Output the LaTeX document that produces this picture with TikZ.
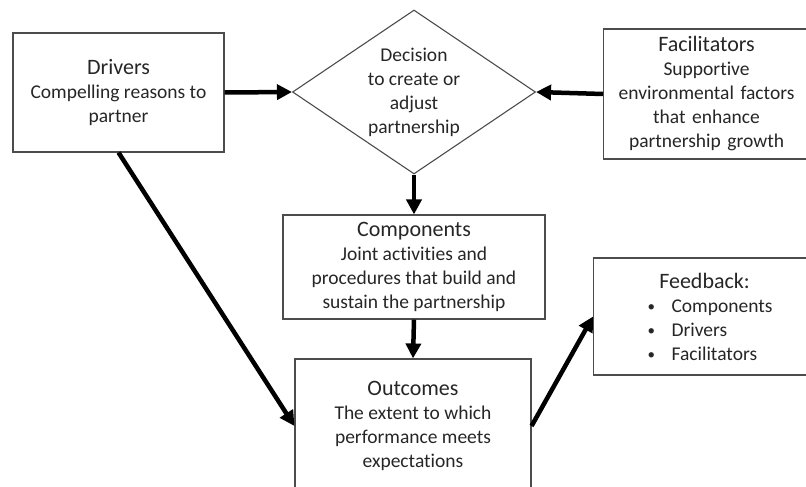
\documentclass[tikz,border=0pt]{standalone}
\usepackage{fontspec}
\setmainfont{Carlito}[Ligatures=NoCommon]
\usepackage{tikz}
\usetikzlibrary{arrows.meta,shapes.geometric,positioning}

\newcommand{\ttl}[1]{{\fontsize{22}{24}\selectfont #1}}
\newcommand{\fbitem}[1]{\makebox[222pt][l]{\hspace*{54pt}\makebox[24pt][l]{\raisebox{1pt}{\fontsize{15}{15}\selectfont\textbullet}}#1}}

\begin{document}
\begin{tikzpicture}
        [x = 1pt, y = -1pt, ->, >={Triangle[length=15pt, width=15pt]}, line width = 4.5pt,
        box/.style = {rectangle, draw=black!70, line width = 1.1pt, align=center, inner sep = 0pt,
                      text=black!85, font=\fontsize{19.5}{24}\selectfont},
        gate/.style = {diamond, draw=black!70, line width = 1.1pt, inner sep = 0pt},
        empty/.style = {rectangle, align=center, inner sep = 0pt, text=black!85,
                        font=\fontsize{19.5}{24}\selectfont}]

        \clip (0,0) rectangle (806,487);

        %% place elements on canvas
        \node[box, minimum width = 211pt, minimum height = 119pt] (drivers) at (118.5,92.5)
            {\ttl{Drivers}\\Compelling reasons to\\partner};
        \node[gate, minimum width = 243pt, minimum height = 164pt] (decision) at (414,92) {};
        \node[empty] (decisiontext) at (decision.center) {Decision\\to create or\\adjust\\partnership};
        \node[box, anchor = west, text width = 206pt, minimum height = 130pt] (facil) at (603,94)
            {\ttl{Facilitators}\\Supportive\\environmental factors\\that enhance\\partnership growth};
        \node[box, minimum width = 262pt, minimum height = 104pt] (components) at (414,267)
            {\ttl{Components}\\Joint activities and\\procedures that build and\\sustain the partnership};
        \node[box, minimum width = 236pt, minimum height = 134pt] (outcomes) at (413,426)
            {\ttl{Outcomes}\\The extent to which\\performance meets\\expectations};
        \node[box, anchor = west, text width = 222pt, minimum height = 117pt] (feedback) at (593,316.5)
            {\ttl{Feedback:}\\\fbitem{Components}\\\fbitem{Drivers}\\\fbitem{Facilitators}};

        %% connect elements
        \path (drivers.east)     edge (decision.west);
        \path (facil.west)       edge (decision.east);
        \path (decision.south)   edge (components.north);
        \path (components.south) edge (outcomes.north);
        \path (drivers.south)    edge (outcomes.west);
        \path (outcomes.east)    edge (feedback.west);
    \end{tikzpicture}
\end{document}
